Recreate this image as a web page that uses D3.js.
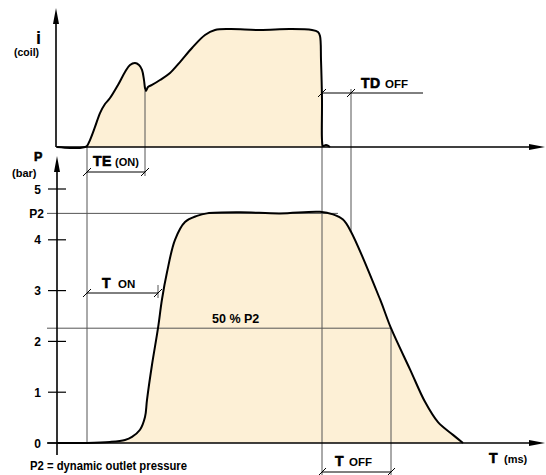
<!DOCTYPE html>
<html lang="en">
<head>
<meta charset="UTF-8">
<title>Coil current and pressure</title>
<script src="https://d3js.org/d3.v7.min.js"></script>
<style>
  body { margin: 0; background: #fff; }
  text { font-family: "Liberation Sans", Arial, sans-serif; font-weight: bold; fill: #000; }
</style>
</head>
<body>
<svg width="546" height="475" id="mainsvg"></svg>
<script>
// coil current (arbitrary units) vs time
const coilT = [0, 3.25, 5.75, 7, 7.5, 8.25, 9.5, 10.75, 12, 13.25, 15.25, 17, 18.25, 19.5, 20.5, 21.25, 21.75, 22, 22.25, 22.75, 23.75, 25.75, 28.25, 30.75, 33.75, 37, 39.5, 43.25, 50.75, 58.25, 63.75, 65.25, 65.75, 66, 66.25, 66.25, 66.5, 67.25, 68.25];
const coilI = [0, -0.08, -0.08, 0, 0.08, 0.58, 1.67, 2.83, 3.58, 4.08, 5.17, 6.25, 6.83, 7.0, 6.83, 6.42, 5.58, 4.92, 4.67, 5.0, 5.17, 5.58, 6.17, 7.08, 8.25, 9.33, 9.75, 9.83, 9.75, 9.83, 9.75, 9.58, 9.25, 7.25, 3.92, 0.58, 0.08, 0.17, 0];

// pressure (bar) vs time
const presT = [0, 7.5, 13.25, 17, 18.75, 20.75, 22, 22.5, 23.75, 25.25, 26.25, 27.5, 29.5, 32, 35, 37.5, 45.75, 55.75, 65.75, 69, 71.5, 73.5, 80.75, 83.5, 88.25, 92, 95.25, 99, 101.5];
const presP = [0, 0, 0.02, 0.06, 0.12, 0.26, 0.51, 0.85, 1.54, 2.26, 2.83, 3.36, 4.0, 4.35, 4.47, 4.52, 4.54, 4.52, 4.55, 4.5, 4.4, 4.16, 2.83, 2.26, 1.45, 0.81, 0.41, 0.16, 0];

const pTicks = [0, 1, 2, 3, 4, 5];
const P2 = 4.52;

// event times
const tStart = 7.5, tTE = 22, tTon = 25.25, tCut = 66.25, tTD = 73.5, tOff50 = 83.5;

const svg = d3.select('#mainsvg');
const fillCol = '#fdf0d6';
const guide = '#555';

const x = d3.scaleLinear().domain([0, 120]).range([57, 537]);
const yI = d3.scaleLinear().domain([0, 10]).range([147, 27]);
const yP = d3.scaleLinear().domain([0, 5]).range([443, 189]);

const coil = coilT.map((t, k) => ({ t, v: coilI[k] }));
const pres = presT.map((t, k) => ({ t, v: presP[k] }));

// fills
svg.append('path')
  .attr('d', d3.area().x(d => x(d.t)).y0(yI(0)).y1(d => yI(Math.max(d.v, 0))).curve(d3.curveCatmullRom.alpha(0.5))(coil))
  .attr('fill', fillCol);
svg.append('path')
  .attr('d', d3.area().x(d => x(d.t)).y0(yP(0)).y1(d => yP(d.v)).curve(d3.curveCatmullRom.alpha(0.5))(pres))
  .attr('fill', fillCol);

// guide lines
const gl = svg.append('g').attr('stroke', guide).attr('stroke-width', 1).attr('fill', 'none');
const seg = (x1, y1, x2, y2) => gl.append('line').attr('x1', x1).attr('y1', y1).attr('x2', x2).attr('y2', y2);
seg(47, yP(P2), x(tCut + 4), yP(P2));
seg(47, yP(P2 / 2), x(tOff50), yP(P2 / 2));
seg(x(tStart), yI(0), x(tStart), yP(0));
seg(x(tTE), yI(4.7), x(tTE), 176);
seg(x(tCut), 93, x(tCut), 475);
seg(x(tTD), 89, x(tTD), yP(4.16));
seg(x(tOff50), yP(P2 / 2), x(tOff50), 475);
seg(x(tTon), 285, x(tTon), 298);

// dimension lines with slash marks
const dim = svg.append('g').attr('stroke', '#000').attr('stroke-width', 1);
function dimLine(x1, x2, y, xEnd) {
  dim.append('line').attr('x1', x1).attr('x2', xEnd || x2).attr('y1', y).attr('y2', y);
  [x1, x2].forEach(xx => dim.append('line')
    .attr('x1', xx - 4).attr('y1', y + 4).attr('x2', xx + 4).attr('y2', y - 4));
}
dimLine(x(tStart), x(tTE), 172);
dimLine(x(tStart), x(tTon), 293);
dimLine(x(tCut), x(tTD), 93, 423);
dimLine(x(tCut), x(tOff50), 472);

// curves
svg.append('path')
  .attr('d', d3.line().x(d => x(d.t)).y(d => yI(d.v)).curve(d3.curveCatmullRom.alpha(0.5))(coil))
  .attr('fill', 'none').attr('stroke', '#000').attr('stroke-width', 2);
svg.append('path')
  .attr('d', d3.line().x(d => x(d.t)).y(d => yP(d.v)).curve(d3.curveCatmullRom.alpha(0.5))(pres))
  .attr('fill', 'none').attr('stroke', '#000').attr('stroke-width', 2);

// axes with arrow heads
const ax = svg.append('g').attr('stroke', '#000').attr('stroke-width', 1.6);
ax.append('line').attr('x1', 56).attr('y1', 14).attr('x2', 56).attr('y2', yI(0));
ax.append('line').attr('x1', 56).attr('y1', yI(0)).attr('x2', 532).attr('y2', yI(0));
ax.append('line').attr('x1', 57).attr('y1', 162).attr('x2', 57).attr('y2', 455);
ax.append('line').attr('x1', 47).attr('y1', yP(0)).attr('x2', 532).attr('y2', yP(0));
const heads = [
  [[56, 8], [53, 24], [59, 24]],
  [[57, 156], [54, 172], [60, 172]],
  [[545, yI(0)], [529, yI(0) - 3], [529, yI(0) + 3]],
  [[545, yP(0)], [529, yP(0) - 3], [529, yP(0) + 3]]
];
svg.selectAll('.head').data(heads).enter().append('path')
  .attr('d', d => 'M' + d.join('L') + 'Z').attr('fill', '#000');

// pressure axis ticks
svg.append('g').selectAll('line').data(pTicks).enter().append('line')
  .attr('x1', 48).attr('x2', 66).attr('y1', d => yP(d)).attr('y2', d => yP(d))
  .attr('stroke', '#000').attr('stroke-width', 1.2);
svg.append('g').selectAll('text').data(pTicks).enter().append('text')
  .attr('x', 41).attr('y', d => yP(d) + 4.5).attr('text-anchor', 'end')
  .attr('font-size', 12).text(d => d);
svg.append('text').attr('x', 44).attr('y', yP(P2) + 4.5).attr('text-anchor', 'end')
  .attr('font-size', 12).text('P2');

// labels
function label(xx, yy, txt, size, heavy) {
  const t = svg.append('text').attr('x', xx).attr('y', yy).attr('font-size', size).text(txt);
  if (heavy) t.attr('stroke', '#000').attr('stroke-width', 0.6).attr('letter-spacing', 0.5);
  return t;
}
label(36, 44, 'i', 18).attr('font-weight', 'normal');
label(14, 56, '(coil)', 10.5);
label(34, 161, 'P', 12.5, true);
label(12, 177, '(bar)', 11);
label(93, 166, 'TE', 14, true);
label(115, 166, '(ON)', 11);
label(102, 288, 'T', 14, true);
label(118, 288, 'ON', 11.5);
label(361, 88, 'TD', 14, true);
label(385, 88, 'OFF', 11.5);
label(335, 466, 'T', 14, true);
label(349, 466, 'OFF', 11.5);
label(489, 463, 'T', 14, true);
label(504, 463, '(ms)', 11);
label(212, 323, '50 % P2', 12.5);
label(30, 470, 'P2 = dynamic outlet pressure', 12.5)
  .attr('textLength', 157).attr('lengthAdjust', 'spacingAndGlyphs');
</script>
</body>
</html>
